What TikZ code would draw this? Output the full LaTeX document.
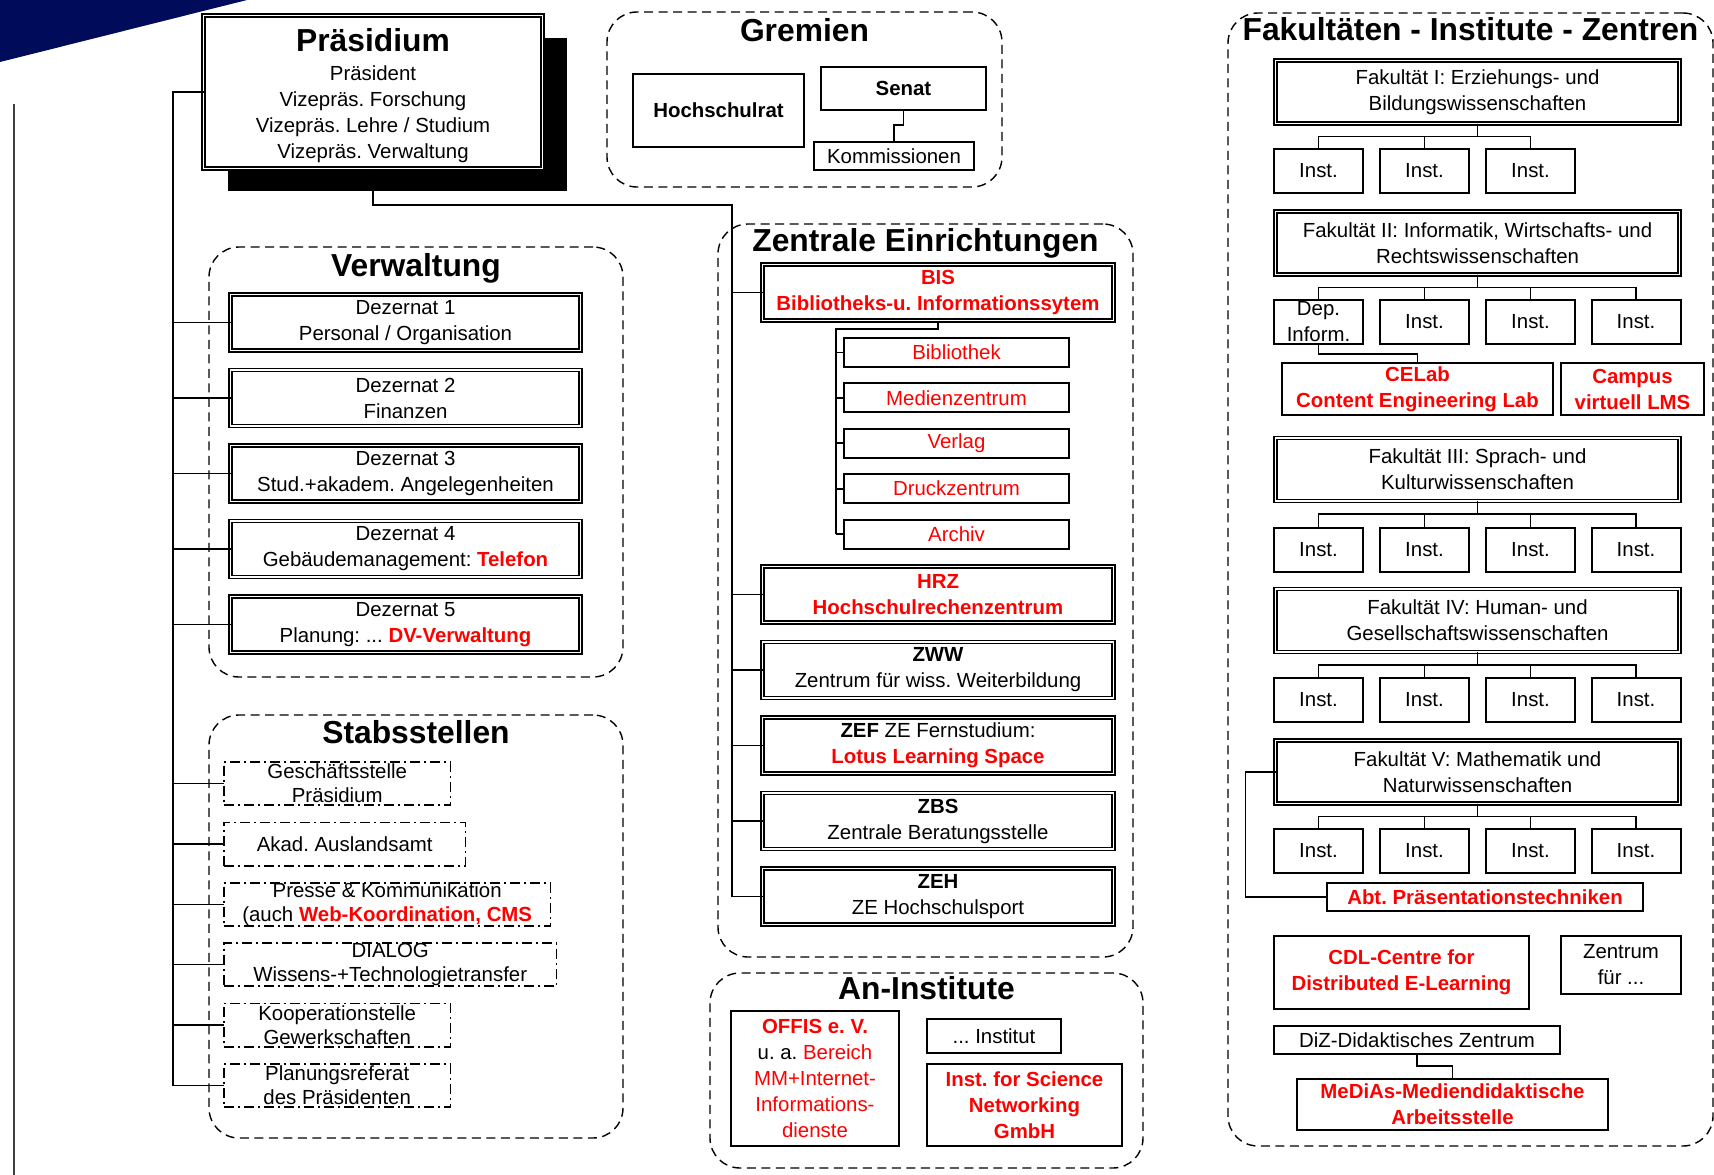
\documentclass[tikz,border=0pt]{standalone}
\usepackage{fontspec}
\setmainfont{Liberation Sans}
\usepackage{tikz}
\usetikzlibrary{positioning,fit,shadows}

\definecolor{hred}{RGB}{255,0,0}
\definecolor{uniblue}{RGB}{0,12,90}
\newcommand{\ttlfont}{\fontsize{31.8}{36}\selectfont\bfseries}
\newcommand{\hired}[1]{\textcolor{hred}{#1}}
\newcommand{\rbf}[1]{\textcolor{hred}{\bfseries #1}}
\frenchspacing

\begin{document}
\begin{tikzpicture}[x=1pt,y=-1pt,
every node/.style={font=\fontsize{20.4}{26}\selectfont},
group/.style={draw, dash pattern=on 9pt off 5.5pt, line width=1.4pt, rounded corners=30pt, inner sep=0pt},
grouptitle/.style={font=\ttlfont, anchor=base, inner sep=0pt},
dbox/.style={draw, double=white, double distance=1.5pt, line width=1.7pt, fill=white, align=center, inner sep=1pt, outer sep=0pt},
sbox/.style={draw, line width=2pt, fill=white, align=center, inner sep=1pt, outer sep=0pt},
stab/.style={draw, dash pattern=on 10pt off 4pt on 2pt off 4pt, line width=1.6pt, align=center, inner xsep=1pt, inner ysep=0pt, outer sep=0pt, anchor=west, minimum height=43.4pt, font=\fontsize{20.4}{24.3}\selectfont},
dez/.style={dbox, minimum width=350pt, minimum height=56pt},
zent/.style={dbox, minimum width=351pt, minimum height=56pt},
bisbox/.style={sbox, minimum width=225pt, minimum height=29pt},
fak/.style={dbox, minimum width=404pt, minimum height=63pt},
inst/.style={sbox, minimum width=89pt, minimum height=44pt},
bus/.style={line width=2.8pt},
twig/.style={line width=1.8pt},
]
\useasboundingbox (0,0) rectangle (1714,1175);
\fill[uniblue] (0,0) -- (247,0) -- (0,62) -- cycle;
\draw[line width=2pt, black!75] (14,104) -- (14,1175);

% the dashed groups
\node[group, fit={(607,12) (1002,187)}] (grem) {};
\node[group, fit={(209,247) (623,677)}] (verw) {};
\node[group, fit={(209,715) (623,1138)}] (stst) {};
\node[group, fit={(718,224) (1133,957)}] (zent) {};
\node[group, fit={(710,973) (1143,1168)}] (anin) {};
\node[group, fit={(1228,13) (1713,1146)}] (fakult) {};

\node[grouptitle] (gremttl) at ([yshift=-30pt]grem.north) {Gremien};
\node[grouptitle] (verwttl) at ([yshift=-30pt]verw.north) {Verwaltung};
\node[grouptitle] (ststttl) at ([yshift=-29pt]stst.north) {Stabsstellen};
\node[grouptitle] (zentttl) at ([yshift=-28pt]zent.north) {Zentrale Einrichtungen};
\node[grouptitle] (aninttl) at ([yshift=-27pt]anin.north) {An-Institute};
\node[grouptitle] (fakttl) at ([yshift=-28pt]fakult.north) {Fakultäten - Institute - Zentren};

% Praesidium
\node[dbox, minimum width=339pt, minimum height=153pt, drop shadow={shadow xshift=24pt, shadow yshift=-22pt, fill=black, opacity=1}] (prae) at (373,92)
  {\rule{0pt}{30pt}{\ttlfont Präsidium}\\[3pt]Präsident\\Vizepräs. Forschung\\Vizepräs. Lehre / Studium\\Vizepräs. Verwaltung};

% Gremien
\node[sbox, minimum width=171pt, minimum height=73pt] (hsr) at (718.5,110.5) {\textbf{Hochschulrat}};
\node[sbox, minimum width=165pt, minimum height=43pt] (senat) at (903.5,88.5) {\textbf{Senat}};
\node[sbox, minimum width=160pt, minimum height=28pt] (komm) at (894,156) {Kommissionen};
\draw[twig] (senat.south) -- ++(0,15) -| (komm.north);

% Verwaltung
\node[dez] (dez1) at (405.5,322.5) {Dezernat 1\\Personal / Organisation};
\node[dez, below=19.5pt of dez1] (dez2) {Dezernat 2\\Finanzen};
\node[dez, below=19.5pt of dez2] (dez3) {Dezernat 3\\Stud.+akadem. Angelegenheiten};
\node[dez, below=19.5pt of dez3] (dez4) {Dezernat 4\\Gebäudemanagement: \rbf{Telefon}};
\node[dez, below=19.5pt of dez4] (dez5) {Dezernat 5\\Planung: ... \rbf{DV-Verwaltung}};

% Stabsstellen
\node[stab, minimum width=226.4pt] (gst) at (224,783.5) {Geschäftsstelle\\Präsidium};
\node[stab, minimum width=241.4pt] (aaa) at (224,844) {Akad. Auslandsamt};
\node[stab, minimum width=326.4pt] (presse) at (224,904.5) {Presse \& Kommunikation\\(auch \rbf{Web-Koordination, CMS}};
\node[stab, minimum width=332.4pt] (dialog) at (224,964.5) {DIALOG\\Wissens-+Technologietransfer};
\node[stab, minimum width=226.4pt] (koop) at (224,1025) {Kooperationstelle\\Gewerkschaften};
\node[stab, minimum width=226.4pt] (planref) at (224,1085.5) {Planungsreferat\\des Präsidenten};

\coordinate (lbus) at (173,0);
\draw[bus] (prae.west) -| (lbus |- planref.west);
\foreach \n in {dez1,dez2,dez3,dez4,dez5,gst,aaa,presse,dialog,koop,planref}
  \draw[twig] (lbus |- \n.west) -- (\n.west);

% Zentrale Einrichtungen
\node[zent] (bis) at (938,292.5) {\rbf{BIS}\\\rbf{Bibliotheks-u. Informationssytem}};
\node[bisbox] (bib) at (956.5,352.5) {\hired{Bibliothek}};
\node[bisbox, below=16.4pt of bib] (mz) {\hired{Medienzentrum}};
\node[bisbox, below=16.4pt of mz] (verlag) {\hired{Verlag}};
\node[bisbox, below=16.4pt of verlag] (druck) {\hired{Druckzentrum}};
\node[bisbox, below=16.4pt of druck] (archiv) {\hired{Archiv}};
\coordinate (bknee) at (836,329);
\draw[twig] (bis.south) |- (bknee) -- (bknee |- archiv.west);
\foreach \n in {bib,mz,verlag,druck,archiv}
  \draw[twig] (bknee |- \n.west) -- (\n.west);

\node[zent] (hrz) at (938,594.5) {\rbf{HRZ}\\\rbf{Hochschulrechenzentrum}};
\node[zent, below=19.5pt of hrz] (zww) {\textbf{ZWW}\\Zentrum für wiss. Weiterbildung};
\node[zent, below=19.5pt of zww] (zef) {\textbf{ZEF} ZE Fernstudium:\\\rbf{Lotus Learning Space}};
\node[zent, below=19.5pt of zef] (zbs) {\textbf{ZBS}\\Zentrale Beratungsstelle};
\node[zent, below=19.5pt of zbs] (zeh) {\textbf{ZEH}\\ZE Hochschulsport};

\coordinate (zknee) at (732,205);
\draw[bus] (prae.south) |- (zknee) -- (zknee |- zeh.west);
\foreach \n in {bis,hrz,zww,zef,zbs,zeh}
  \draw[twig] (zknee |- \n.west) -- (\n.west);

% An-Institute
\node[sbox, minimum width=168pt, minimum height=135pt] (offis) at (815,1078.5)
  {\rbf{OFFIS e. V.}\\u. a. \hired{Bereich}\\\hired{MM+Internet-}\\\hired{Informations-}\\\hired{dienste}};
\node[sbox, minimum width=134pt, minimum height=34pt] (instx) at (994,1036) {... Institut};
\node[sbox, minimum width=195pt, minimum height=82pt] (isn) at (1024.5,1105) {\rbf{Inst. for Science}\\\rbf{Networking}\\\rbf{GmbH}};

% Fakultaeten
\node[fak] (fak1) at (1477.5,92) {Fakultät I: Erziehungs- und\\Bildungswissenschaften};
\node[fak] (fak2) at (1477.5,243) {Fakultät II: Informatik, Wirtschafts- und\\Rechtswissenschaften};
\node[fak] (fak3) at (1477.5,469.5) {Fakultät III: Sprach- und\\Kulturwissenschaften};
\node[fak] (fak4) at (1477.5,620.5) {Fakultät IV: Human- und\\Gesellschaftswissenschaften};
\node[fak] (fak5) at (1477.5,772) {Fakultät V: Mathematik und\\Naturwissenschaften};

\foreach \c/\x in {1/1318.5,2/1424.5,3/1530.5}
  \node[inst] (i1\c) at (\x,171) {Inst.};
\node[inst, inner sep=0pt] (dep) at (1318.5,322) {Dep.\\Inform.};
\foreach \c/\x in {2/1424.5,3/1530.5,4/1636}
  \node[inst] (i2\c) at (\x,322) {Inst.};
\foreach \r/\y in {3/549.5,4/700,5/851}
  \foreach \c/\x in {1/1318.5,2/1424.5,3/1530.5,4/1636}
    \node[inst] (i\r\c) at (\x,\y) {Inst.};

\foreach \n in {i11,i12,i13}
  \draw[twig] (fak1.south) -- ++(0,13) -| (\n.north);
\foreach \n in {dep,i22,i23,i24}
  \draw[twig] (fak2.south) -- ++(0,13) -| (\n.north);
\foreach \r in {3,4,5}
  \foreach \c in {1,2,3,4}
    \draw[twig] (fak\r.south) -- ++(0,13) -| (i\r\c.north);

\node[sbox, minimum width=271pt, minimum height=52pt] (celab) at (1417.5,389) {\rbf{CELab}\\\rbf{Content Engineering Lab}};
\node[sbox, minimum width=143pt, minimum height=52pt] (campus) at (1632.5,389) {\rbf{Campus}\\\rbf{virtuell LMS}};
\draw[twig] (dep.south) -- ++(0,10) -| (celab.north);

\node[sbox, minimum width=316pt, minimum height=28pt] (abt) at (1485,897) {\rbf{Abt. Präsentationstechniken}};
\draw[twig] (fak5.west) -- ++(-30,0) |- (abt.west);

\node[sbox, minimum width=255pt, minimum height=73pt] (cdl) at (1401.5,972.5) {\rbf{CDL-Centre for}\\\rbf{Distributed E-Learning}};
\node[sbox, minimum width=120pt, minimum height=58pt] (zfuer) at (1621,965) {Zentrum\\für ...};
\node[sbox, minimum width=286pt, minimum height=28pt] (diz) at (1417,1040) {DiZ-Didaktisches Zentrum};
\node[sbox, minimum width=311pt, minimum height=51pt] (medias) at (1452.5,1104.5) {\rbf{MeDiAs-Mediendidaktische}\\\rbf{Arbeitsstelle}};
\draw[twig] (diz.south) -- ++(0,12) -| (medias.north);
\end{tikzpicture}
\end{document}
